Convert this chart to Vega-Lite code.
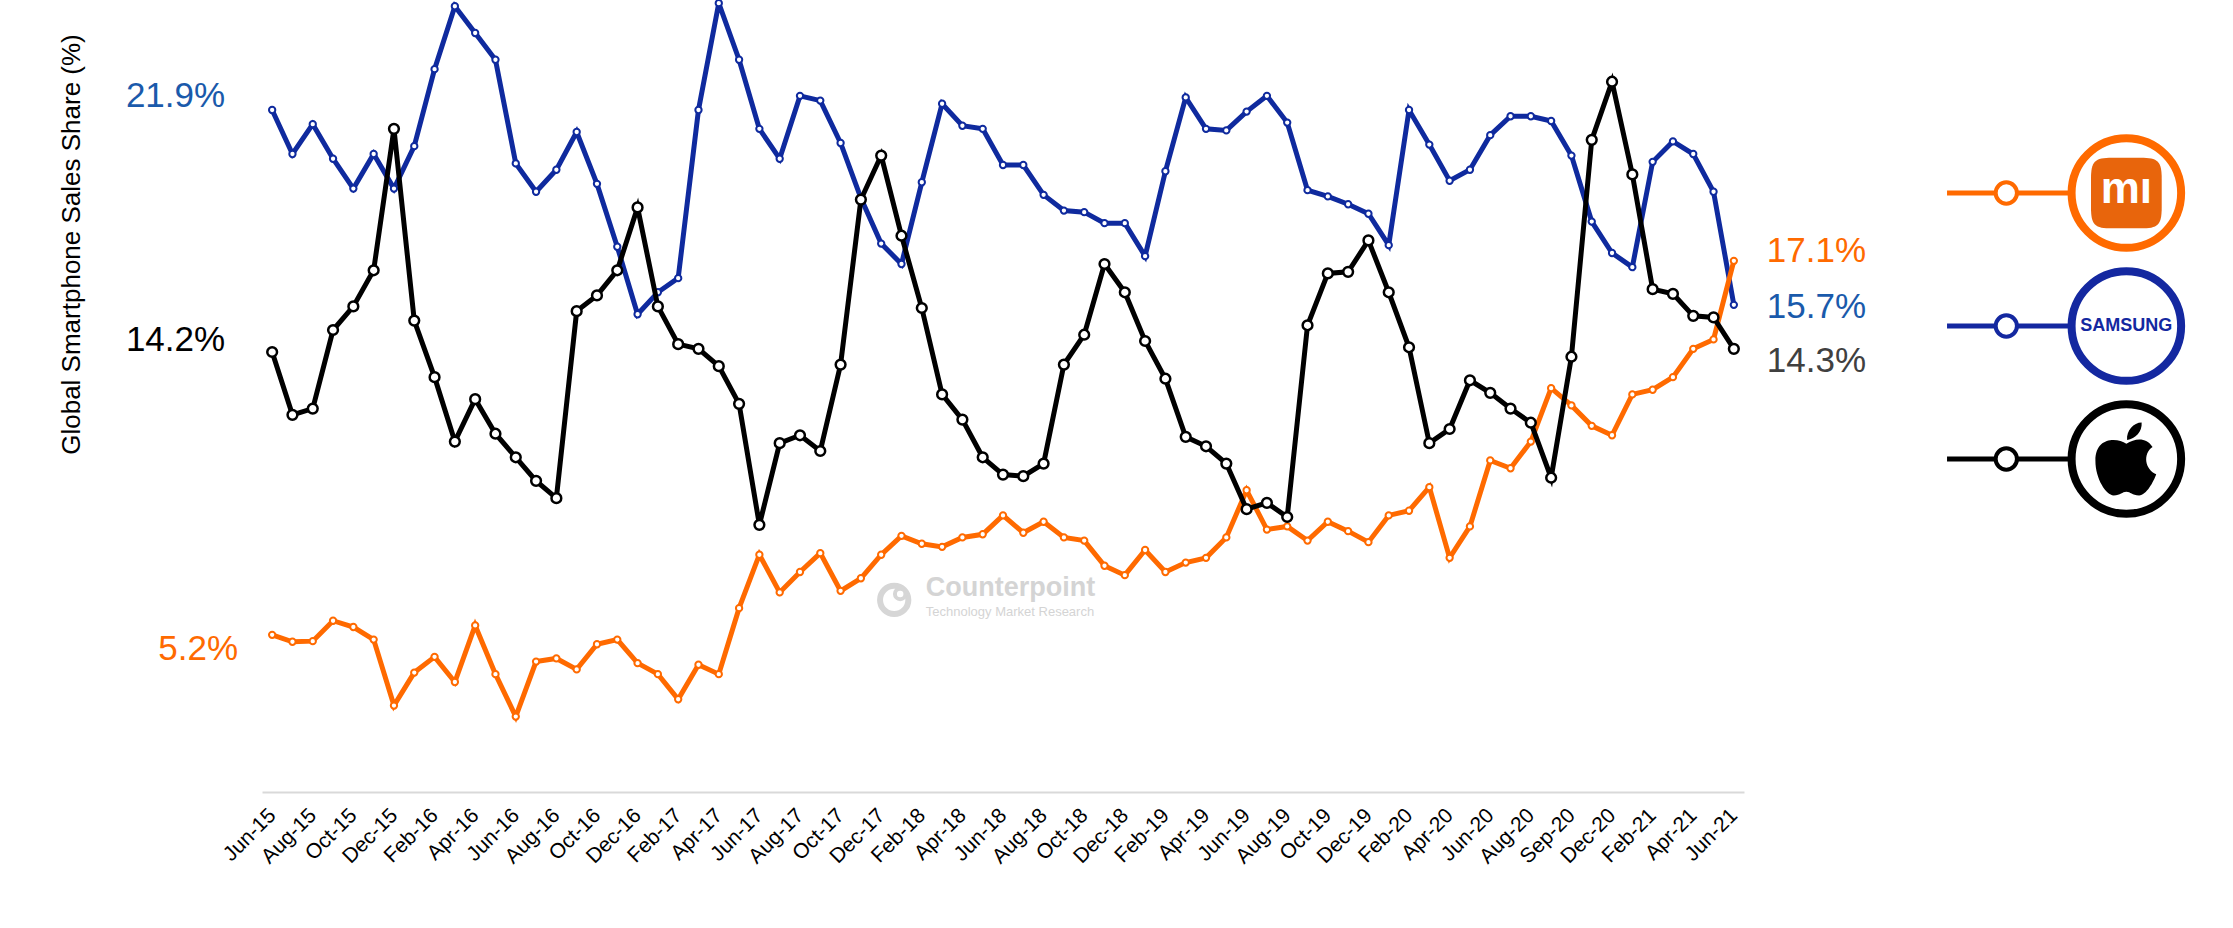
{
  "$schema": "https://vega.github.io/schema/vega-lite/v6.json",
  "autosize": {"type": "none"},
  "padding": {"left": 262, "top": 0, "right": 489, "bottom": 136},
  "width": 1482,
  "height": 792,
  "background": "white",
  "config": {"view": {"stroke": null}, "font": "Liberation Sans"},
  "datasets": {
    "share": [
      {"month": "Jun-15", "Samsung": 21.9, "Xiaomi": 5.2, "Apple": 14.2},
      {"month": "Jul-15", "Samsung": 20.5, "Xiaomi": 4.98, "Apple": 12.2},
      {"month": "Aug-15", "Samsung": 21.45, "Xiaomi": 5.0, "Apple": 12.4},
      {"month": "Sep-15", "Samsung": 20.35, "Xiaomi": 5.65, "Apple": 14.9},
      {"month": "Oct-15", "Samsung": 19.4, "Xiaomi": 5.45, "Apple": 15.65},
      {"month": "Nov-15", "Samsung": 20.5, "Xiaomi": 5.05, "Apple": 16.8},
      {"month": "Dec-15", "Samsung": 19.4, "Xiaomi": 2.95, "Apple": 21.3},
      {"month": "Jan-16", "Samsung": 20.75, "Xiaomi": 4.0, "Apple": 15.2},
      {"month": "Feb-16", "Samsung": 23.2, "Xiaomi": 4.5, "Apple": 13.4},
      {"month": "Mar-16", "Samsung": 25.2, "Xiaomi": 3.7, "Apple": 11.35},
      {"month": "Apr-16", "Samsung": 24.35, "Xiaomi": 5.5, "Apple": 12.7},
      {"month": "May-16", "Samsung": 23.5, "Xiaomi": 3.95, "Apple": 11.6},
      {"month": "Jun-16", "Samsung": 20.2, "Xiaomi": 2.6, "Apple": 10.85},
      {"month": "Jul-16", "Samsung": 19.3, "Xiaomi": 4.35, "Apple": 10.1},
      {"month": "Aug-16", "Samsung": 20.0, "Xiaomi": 4.45, "Apple": 9.55},
      {"month": "Sep-16", "Samsung": 21.2, "Xiaomi": 4.1, "Apple": 15.5},
      {"month": "Oct-16", "Samsung": 19.55, "Xiaomi": 4.9, "Apple": 16.0},
      {"month": "Nov-16", "Samsung": 17.55, "Xiaomi": 5.05, "Apple": 16.8},
      {"month": "Dec-16", "Samsung": 15.4, "Xiaomi": 4.3, "Apple": 18.8},
      {"month": "Jan-17", "Samsung": 16.1, "Xiaomi": 3.95, "Apple": 15.65},
      {"month": "Feb-17", "Samsung": 16.55, "Xiaomi": 3.15, "Apple": 14.45},
      {"month": "Mar-17", "Samsung": 21.9, "Xiaomi": 4.25, "Apple": 14.3},
      {"month": "Apr-17", "Samsung": 25.3, "Xiaomi": 3.95, "Apple": 13.75},
      {"month": "May-17", "Samsung": 23.5, "Xiaomi": 6.05, "Apple": 12.55},
      {"month": "Jun-17", "Samsung": 21.3, "Xiaomi": 7.75, "Apple": 8.7},
      {"month": "Jul-17", "Samsung": 20.35, "Xiaomi": 6.55, "Apple": 11.3},
      {"month": "Aug-17", "Samsung": 22.35, "Xiaomi": 7.2, "Apple": 11.55},
      {"month": "Sep-17", "Samsung": 22.2, "Xiaomi": 7.8, "Apple": 11.05},
      {"month": "Oct-17", "Samsung": 20.85, "Xiaomi": 6.6, "Apple": 13.8},
      {"month": "Nov-17", "Samsung": 19.1, "Xiaomi": 7.0, "Apple": 19.05},
      {"month": "Dec-17", "Samsung": 17.65, "Xiaomi": 7.75, "Apple": 20.45},
      {"month": "Jan-18", "Samsung": 17.0, "Xiaomi": 8.35, "Apple": 17.9},
      {"month": "Feb-18", "Samsung": 19.6, "Xiaomi": 8.1, "Apple": 15.6},
      {"month": "Mar-18", "Samsung": 22.1, "Xiaomi": 8.0, "Apple": 12.85},
      {"month": "Apr-18", "Samsung": 21.4, "Xiaomi": 8.3, "Apple": 12.05},
      {"month": "May-18", "Samsung": 21.3, "Xiaomi": 8.4, "Apple": 10.85},
      {"month": "Jun-18", "Samsung": 20.15, "Xiaomi": 9.0, "Apple": 10.3},
      {"month": "Jul-18", "Samsung": 20.15, "Xiaomi": 8.45, "Apple": 10.25},
      {"month": "Aug-18", "Samsung": 19.2, "Xiaomi": 8.8, "Apple": 10.65},
      {"month": "Sep-18", "Samsung": 18.7, "Xiaomi": 8.3, "Apple": 13.8},
      {"month": "Oct-18", "Samsung": 18.65, "Xiaomi": 8.2, "Apple": 14.75},
      {"month": "Nov-18", "Samsung": 18.3, "Xiaomi": 7.4, "Apple": 17.0},
      {"month": "Dec-18", "Samsung": 18.3, "Xiaomi": 7.1, "Apple": 16.1},
      {"month": "Jan-19", "Samsung": 17.25, "Xiaomi": 7.9, "Apple": 14.55},
      {"month": "Feb-19", "Samsung": 19.95, "Xiaomi": 7.2, "Apple": 13.35},
      {"month": "Mar-19", "Samsung": 22.3, "Xiaomi": 7.5, "Apple": 11.5},
      {"month": "Apr-19", "Samsung": 21.3, "Xiaomi": 7.65, "Apple": 11.2},
      {"month": "May-19", "Samsung": 21.25, "Xiaomi": 8.3, "Apple": 10.65},
      {"month": "Jun-19", "Samsung": 21.85, "Xiaomi": 9.8, "Apple": 9.2},
      {"month": "Jul-19", "Samsung": 22.35, "Xiaomi": 8.55, "Apple": 9.4},
      {"month": "Aug-19", "Samsung": 21.5, "Xiaomi": 8.65, "Apple": 8.95},
      {"month": "Sep-19", "Samsung": 19.35, "Xiaomi": 8.2, "Apple": 15.05},
      {"month": "Oct-19", "Samsung": 19.15, "Xiaomi": 8.8, "Apple": 16.7},
      {"month": "Nov-19", "Samsung": 18.9, "Xiaomi": 8.5, "Apple": 16.75},
      {"month": "Dec-19", "Samsung": 18.6, "Xiaomi": 8.15, "Apple": 17.75},
      {"month": "Jan-20", "Samsung": 17.6, "Xiaomi": 9.0, "Apple": 16.1},
      {"month": "Feb-20", "Samsung": 21.9, "Xiaomi": 9.15, "Apple": 14.35},
      {"month": "Mar-20", "Samsung": 20.8, "Xiaomi": 9.9, "Apple": 11.3},
      {"month": "Apr-20", "Samsung": 19.65, "Xiaomi": 7.65, "Apple": 11.75},
      {"month": "May-20", "Samsung": 20.0, "Xiaomi": 8.65, "Apple": 13.3},
      {"month": "Jun-20", "Samsung": 21.1, "Xiaomi": 10.75, "Apple": 12.9},
      {"month": "Jul-20", "Samsung": 21.7, "Xiaomi": 10.5, "Apple": 12.4},
      {"month": "Aug-20", "Samsung": 21.7, "Xiaomi": 11.35, "Apple": 11.95},
      {"month": "Sep-20", "Samsung": 21.55, "Xiaomi": 13.05, "Apple": 10.2},
      {"month": "Oct-20", "Samsung": 20.45, "Xiaomi": 12.5, "Apple": 14.05},
      {"month": "Nov-20", "Samsung": 18.35, "Xiaomi": 11.85, "Apple": 20.95},
      {"month": "Dec-20", "Samsung": 17.35, "Xiaomi": 11.55, "Apple": 22.8},
      {"month": "Jan-21", "Samsung": 16.9, "Xiaomi": 12.85, "Apple": 19.85},
      {"month": "Feb-21", "Samsung": 20.25, "Xiaomi": 13.0, "Apple": 16.2},
      {"month": "Mar-21", "Samsung": 20.9, "Xiaomi": 13.4, "Apple": 16.05},
      {"month": "Apr-21", "Samsung": 20.5, "Xiaomi": 14.3, "Apple": 15.35},
      {"month": "May-21", "Samsung": 19.3, "Xiaomi": 14.6, "Apple": 15.3},
      {"month": "Jun-21", "Samsung": 15.7, "Xiaomi": 17.1, "Apple": 14.3}
    ],
    "legend": [
      {"brand": "Xiaomi", "logo": "mı"},
      {"brand": "Samsung", "logo": "SAMSUNG"},
      {"brand": "Apple", "logo": ""}
    ]
  },
  "layer": [
    {
      "data": {"name": "share"},
      "transform": [{"fold": ["Samsung", "Xiaomi", "Apple"], "as": ["brand", "share"]}],
      "encoding": {
        "x": {
          "field": "month", "type": "ordinal", "sort": null,
          "scale": {"type": "point", "padding": 0.5,
            "domain": ["Jun-15","Jul-15","Aug-15","Sep-15","Oct-15","Nov-15","Dec-15","Jan-16","Feb-16","Mar-16","Apr-16","May-16","Jun-16","Jul-16","Aug-16","Sep-16","Oct-16","Nov-16","Dec-16","Jan-17","Feb-17","Mar-17","Apr-17","May-17","Jun-17","Jul-17","Aug-17","Sep-17","Oct-17","Nov-17","Dec-17","Jan-18","Feb-18","Mar-18","Apr-18","May-18","Jun-18","Jul-18","Aug-18","Sep-18","Oct-18","Nov-18","Dec-18","Jan-19","Feb-19","Mar-19","Apr-19","May-19","Jun-19","Jul-19","Aug-19","Sep-19","Oct-19","Nov-19","Dec-19","Jan-20","Feb-20","Mar-20","Apr-20","May-20","Jun-20","Jul-20","Aug-20","Sep-20","Oct-20","Nov-20","Dec-20","Jan-21","Feb-21","Mar-21","Apr-21","May-21","Jun-21"]},
          "axis": {
            "title": null,
            "values": ["Jun-15","Aug-15","Oct-15","Dec-15","Feb-16","Apr-16","Jun-16","Aug-16","Oct-16","Dec-16","Feb-17","Apr-17","Jun-17","Aug-17","Oct-17","Dec-17","Feb-18","Apr-18","Jun-18","Aug-18","Oct-18","Dec-18","Feb-19","Apr-19","Jun-19","Aug-19","Oct-19","Dec-19","Feb-20","Apr-20","Jun-20","Aug-20","Oct-20","Dec-20","Feb-21","Apr-21","Jun-21"],
            "labelExpr": "datum.value === 'Oct-20' ? 'Sep-20' : datum.value",
            "labelAngle": -45, "labelAlign": "right", "labelBaseline": "middle",
            "labelFontSize": 21, "labelColor": "#000000", "labelFont": "Liberation Sans",
            "labelPadding": 20, "labelOverlap": false, "labelBound": false,
            "ticks": false, "tickSize": 0, "grid": false,
            "domainColor": "#d9d9d9", "domainWidth": 2
          }
        },
        "y": {
          "field": "share", "type": "quantitative",
          "scale": {"domain": [0.2, 25.4], "nice": false, "zero": false},
          "axis": {
            "title": "Global Smartphone Sales Share (%)",
            "labels": false, "ticks": false, "domain": false, "grid": false,
            "titleFontSize": 26, "titleFontWeight": "normal", "titleColor": "#000000",
            "titleFont": "Liberation Sans",
            "titleAngle": -90, "titleX": -191, "titleY": 244,
            "titleAlign": "center", "titleBaseline": "middle"
          }
        }
      },
      "layer": [
        {
          "transform": [{"filter": "datum.month === 'Dec-17' && datum.brand === 'Samsung'"}],
          "mark": {"type": "point", "shape": "circle", "filled": false, "fill": "white", "stroke": "#d6d6d6", "strokeWidth": 6, "size": 800, "opacity": 1, "xOffset": 13},
          "encoding": {"y": {"datum": 6.31, "type": "quantitative"}}
        },
        {
          "transform": [{"filter": "datum.month === 'Dec-17' && datum.brand === 'Samsung'"}],
          "mark": {"type": "point", "shape": "circle", "filled": false, "fill": "white", "stroke": "#d6d6d6", "strokeWidth": 4, "size": 110, "opacity": 1, "xOffset": 19, "yOffset": -6},
          "encoding": {"y": {"datum": 6.31, "type": "quantitative"}}
        },
        {
          "transform": [{"filter": "datum.month === 'Feb-18' && datum.brand === 'Samsung'"}],
          "mark": {"type": "text", "align": "left", "baseline": "middle", "fontSize": 27, "fontWeight": "bold", "color": "#d4d4d4", "dx": 4},
          "encoding": {"y": {"datum": 6.69, "type": "quantitative"}, "text": {"value": "Counterpoint"}}
        },
        {
          "transform": [{"filter": "datum.month === 'Feb-18' && datum.brand === 'Samsung'"}],
          "mark": {"type": "text", "align": "left", "baseline": "middle", "fontSize": 13, "color": "#d4d4d4", "dx": 4},
          "encoding": {"y": {"datum": 5.93, "type": "quantitative"}, "text": {"value": "Technology Market Research"}}
        },
        {
          "transform": [{"filter": "datum.brand === 'Samsung'"}],
          "mark": {"type": "line", "color": "#0f2a9e", "strokeWidth": 5,
            "point": {"filled": false, "fill": "white", "stroke": "#0f2a9e", "size": 40, "strokeWidth": 2, "opacity": 1}}
        },
        {
          "transform": [{"filter": "datum.brand === 'Xiaomi'"}],
          "mark": {"type": "line", "color": "#ff6a00", "strokeWidth": 5,
            "point": {"filled": false, "fill": "white", "stroke": "#ff6a00", "size": 40, "strokeWidth": 2, "opacity": 1}}
        },
        {
          "transform": [{"filter": "datum.brand === 'Apple'"}],
          "mark": {"type": "line", "color": "#000000", "strokeWidth": 5,
            "point": {"filled": false, "fill": "white", "stroke": "#000000", "size": 95, "strokeWidth": 2.5, "opacity": 1}}
        },
        {
          "transform": [{"filter": "datum.month === 'Jun-15' && datum.brand === 'Samsung'"}, {"calculate": "format(datum.share, '.1f') + '%'", "as": "label"}],
          "mark": {"type": "text", "align": "right", "baseline": "middle", "dx": -47, "dy": -14, "fontSize": 35, "color": "#1a5aab"},
          "encoding": {"text": {"field": "label"}}
        },
        {
          "transform": [{"filter": "datum.month === 'Jun-15' && datum.brand === 'Apple'"}, {"calculate": "format(datum.share, '.1f') + '%'", "as": "label"}],
          "mark": {"type": "text", "align": "right", "baseline": "middle", "dx": -47, "dy": -12, "fontSize": 35, "color": "#000000"},
          "encoding": {"text": {"field": "label"}}
        },
        {
          "transform": [{"filter": "datum.month === 'Jun-15' && datum.brand === 'Xiaomi'"}, {"calculate": "format(datum.share, '.1f') + '%'", "as": "label"}],
          "mark": {"type": "text", "align": "right", "baseline": "middle", "dx": -34, "dy": 14, "fontSize": 35, "color": "#ff6a00"},
          "encoding": {"text": {"field": "label"}}
        },
        {
          "transform": [{"filter": "datum.month === 'Jun-21' && datum.brand === 'Xiaomi'"}, {"calculate": "format(datum.share, '.1f') + '%'", "as": "label"}],
          "mark": {"type": "text", "align": "left", "baseline": "middle", "dx": 33, "dy": -10, "fontSize": 35, "color": "#ff6a00"},
          "encoding": {"text": {"field": "label"}}
        },
        {
          "transform": [{"filter": "datum.month === 'Jun-21' && datum.brand === 'Samsung'"}, {"calculate": "format(datum.share, '.1f') + '%'", "as": "label"}],
          "mark": {"type": "text", "align": "left", "baseline": "middle", "dx": 33, "dy": 2, "fontSize": 35, "color": "#1a5aab"},
          "encoding": {"text": {"field": "label"}}
        },
        {
          "transform": [{"filter": "datum.month === 'Jun-21' && datum.brand === 'Apple'"}, {"calculate": "format(datum.share, '.1f') + '%'", "as": "label"}],
          "mark": {"type": "text", "align": "left", "baseline": "middle", "dx": 33, "dy": 12, "fontSize": 35, "color": "#404040"},
          "encoding": {"text": {"field": "label"}}
        }
      ]
    },
    {
      "data": {"name": "legend"},
      "encoding": {
        "y": {"field": "brand", "type": "nominal",
          "scale": {"type": "point", "domain": ["Xiaomi", "Samsung", "Apple"], "range": [193, 459], "padding": 0},
          "axis": null},
        "color": {"field": "brand", "type": "nominal",
          "scale": {"domain": ["Xiaomi", "Samsung", "Apple"], "range": ["#ff6a00", "#1428a0", "#000000"]},
          "legend": null}
      },
      "layer": [
        {
          "mark": {"type": "rule", "strokeWidth": 5},
          "encoding": {"x": {"datum": 1.137, "type": "quantitative", "scale": {"domain": [0, 1]}, "axis": null}, "x2": {"datum": 1.258}}
        },
        {
          "mark": {"type": "point", "shape": "circle", "filled": false, "fill": "white", "size": 452, "strokeWidth": 4, "opacity": 1},
          "encoding": {"x": {"datum": 1.177, "type": "quantitative"}}
        },
        {
          "mark": {"type": "point", "shape": "circle", "filled": false, "fill": "white", "size": 12000, "strokeWidth": 8, "opacity": 1},
          "encoding": {"x": {"datum": 1.258, "type": "quantitative"}}
        },
        {
          "transform": [{"filter": "datum.brand === 'Xiaomi'"}],
          "mark": {"type": "point", "shape": "M -1 -0.4 C -1 -0.9 -0.9 -1 -0.4 -1 L 0.4 -1 C 0.9 -1 1 -0.9 1 -0.4 L 1 0.4 C 1 0.9 0.9 1 0.4 1 L -0.4 1 C -0.9 1 -1 0.9 -1 0.4 Z", "filled": true, "size": 5000, "opacity": 1},
          "encoding": {"x": {"datum": 1.258, "type": "quantitative"}, "color": {"value": "#e8650c"}}
        },
        {
          "transform": [{"filter": "datum.brand === 'Xiaomi'"}],
          "mark": {"type": "text", "align": "center", "baseline": "middle", "fontSize": 44, "fontWeight": "bold", "dy": -3},
          "encoding": {"x": {"datum": 1.258, "type": "quantitative"}, "text": {"field": "logo"}, "color": {"value": "#ffffff"}}
        },
        {
          "transform": [{"filter": "datum.brand === 'Samsung'"}],
          "mark": {"type": "text", "align": "center", "baseline": "middle", "fontSize": 18, "fontWeight": "bold"},
          "encoding": {"x": {"datum": 1.258, "type": "quantitative"}, "text": {"field": "logo"}, "color": {"value": "#1428a0"}}
        },
        {
          "transform": [{"filter": "datum.brand === 'Apple'"}],
          "mark": {"type": "point", "shape": "M 0 -0.42 C -0.25 -0.58 -0.85 -0.62 -0.85 0.05 C -0.85 0.55 -0.55 1 -0.35 1 C -0.15 1 -0.12 0.9 0 0.9 C 0.12 0.9 0.15 1 0.35 1 C 0.55 1 0.75 0.62 0.82 0.42 C 0.5 0.28 0.45 -0.15 0.72 -0.33 C 0.55 -0.6 0.25 -0.58 0 -0.42 Z M 0.02 -0.52 C 0 -0.78 0.2 -1 0.42 -1 C 0.44 -0.75 0.25 -0.55 0.02 -0.52 Z", "filled": true, "size": 5300, "opacity": 1},
          "encoding": {"x": {"datum": 1.258, "type": "quantitative"}, "color": {"value": "#000000"}}
        }
      ]
    }
  ],
  "resolve": {"scale": {"x": "independent", "y": "independent", "color": "independent"}, "axis": {"x": "independent", "y": "independent"}}
}
